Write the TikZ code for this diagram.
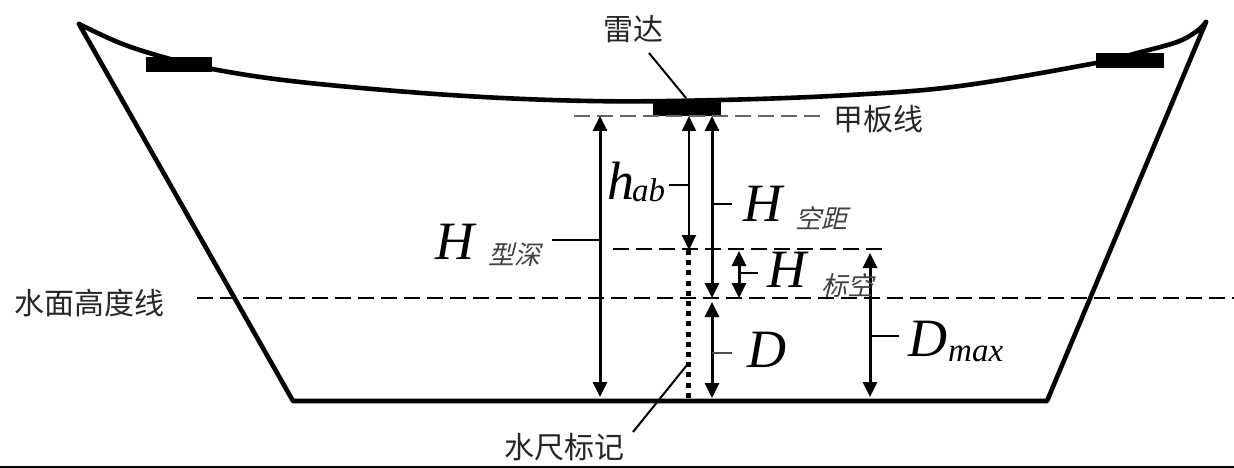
\documentclass[tikz,border=0pt]{standalone}
\usepackage{fontspec}
\setmainfont{Liberation Serif}
\newfontfamily\cjk{Noto Sans CJK SC}
\newfontfamily\cjkit{Noto Sans CJK SC}[FakeSlant=0.25]
\usetikzlibrary{arrows.meta}
\tikzset{
  hull/.style={line width=4.6pt,line cap=round,line join=round},
  block/.style={fill=black,draw=none,inner sep=0pt},
  dim/.style={line width=3pt,{Triangle[length=15pt,width=14pt]}-{Triangle[length=15pt,width=14pt]}},
  thindim/.style={line width=2pt,{Triangle[length=15pt,width=14pt]}-{Triangle[length=15pt,width=14pt]}},
  tick/.style={line width=1.8pt},
  lead/.style={line width=2pt},
  dashline/.style={line width=2pt,dash pattern=on 16pt off 7pt},
  cn/.style={font=\cjk\fontsize{30}{32}\selectfont,text=black!85,inner sep=0pt},
  sym/.style={font=\fontsize{54}{56}\selectfont\itshape,inner sep=0pt},
  sub/.style={font=\fontsize{33}{35}\selectfont\itshape,inner sep=0pt},
  cnsub/.style={font=\cjkit\fontsize{26}{28}\selectfont,text=black!75,inner sep=0pt}
}
\begin{document}
\begin{tikzpicture}[x=1pt,y=-1pt]
\useasboundingbox (0,0) rectangle (1234,468);
% hull
\coordinate (TL) at (79,24);
\coordinate (TR) at (1206,22);
\coordinate (BL) at (293,401);
\coordinate (BR) at (1047,401);
\draw[hull] (TL) -- (BL) -- (BR) -- (TR);
\draw[hull] plot[smooth,tension=0.6] coordinates {(79,24) (120,43) (163,57) (212,69) (300,82) (450,95) (590,101) (720,100) (850,95) (960,86) (1096,63) (1137,53) (1177,42) (1197,31) (1206,22)};
\draw[line width=1.6pt] (0,467) -- (1234,467);
% blocks
\node[block,minimum width=66pt,minimum height=15pt] (bL) at (179,64.5) {};
\node[block,minimum width=68pt,minimum height=15pt] (bR) at (1130,60.5) {};
\node[block,minimum width=68pt,minimum height=17pt] (radar) at (687,107.5) {};
% dashed levels
\coordinate (d1a) at (574,116); \coordinate (d1b) at (820,116);
\coordinate (d2a) at (613,249); \coordinate (d2b) at (888,249);
\coordinate (d3a) at (197,297.5); \coordinate (d3b) at (1234,297.5);
\draw[dashline,draw=black!60] (d1a) -- (d1b);
\draw[dashline] (d2a) -- (d2b);
\draw[dashline] (d3a) -- (d3b);
% water gauge
\coordinate (g1) at (688.5,250); \coordinate (g2) at (688.5,400);
\draw[line width=5pt,dash pattern=on 5pt off 5.2pt] (g1) -- (g2);
% dimension arrows
\coordinate (a1) at (600,116); \coordinate (a2) at (600,397);
\coordinate (b1) at (689,116); \coordinate (b2) at (689,250);
\coordinate (c1) at (712,116); \coordinate (c2) at (712,298);
\coordinate (e1) at (739,251); \coordinate (e2) at (739,298);
\coordinate (f1) at (712,302); \coordinate (f2) at (712,398);
\coordinate (k1) at (870,253); \coordinate (k2) at (870,397);
\draw[dim] (a1) -- (a2);
\draw[thindim] (b1) -- (b2);
\draw[dim] (c1) -- (c2);
\draw[dim] (e1) -- (e2);
\draw[dim] (f1) -- (f2);
\draw[dim] (k1) -- (k2);
% label ticks
\coordinate (t1) at (552,240); \coordinate (t1e) at (600,240);
\coordinate (t2) at (669,185); \coordinate (t2e) at (688,185);
\coordinate (t3) at (732,204); \coordinate (t3e) at (712,204);
\coordinate (t4) at (758,273); \coordinate (t4e) at (739,273);
\coordinate (t5) at (732,353); \coordinate (t5e) at (712,353);
\coordinate (t6) at (899,336); \coordinate (t6e) at (870,336);
\draw[tick] (t1) -- (t1e);
\draw[tick] (t2) -- (t2e);
\draw[tick] (t3) -- (t3e);
\draw[tick] (t4) -- (t4e);
\draw[tick,draw=black!70] (t5) -- (t5e);
\draw[tick] (t6) -- (t6e);
% Chinese labels
\node[cn] (lradar) at (633,29) {雷达};
\node[cn] (ldeck) at (878,119) {甲板线};
\node[cn] (lwater) at (89,303) {水面高度线};
\node[cn] (lgauge) at (564,447) {水尺标记};
\coordinate (r1) at (649,53); \coordinate (r2) at (686,98);
\coordinate (w1) at (687,365); \coordinate (w2) at (633,432);
\draw[lead] (r1) -- (r2);
\draw[lead] (w1) -- (w2);
% symbols
\node[sym,anchor=base west] (H1) at (435,259) {H};
\node[cnsub,anchor=base west] (H1s) at (488,264) {型深};
\node[sym,anchor=base west] (h2) at (607,199) {h};
\node[sub,anchor=base west] (h2s) at (632,201) {ab};
\node[sym,anchor=base west] (H3) at (743,221) {H};
\node[cnsub,anchor=base west] (H3s) at (795,228) {空距};
\node[sym,anchor=base west] (H4) at (767,287) {H};
\node[cnsub,anchor=base west] (H4s) at (821,295) {标空};
\node[sym,anchor=base west] (D1) at (747,367) {D};
\node[sym,anchor=base west] (D2) at (908,356) {D};
\node[sub,anchor=base west] (D2s) at (948,361) {max};
\end{tikzpicture}
\end{document}
